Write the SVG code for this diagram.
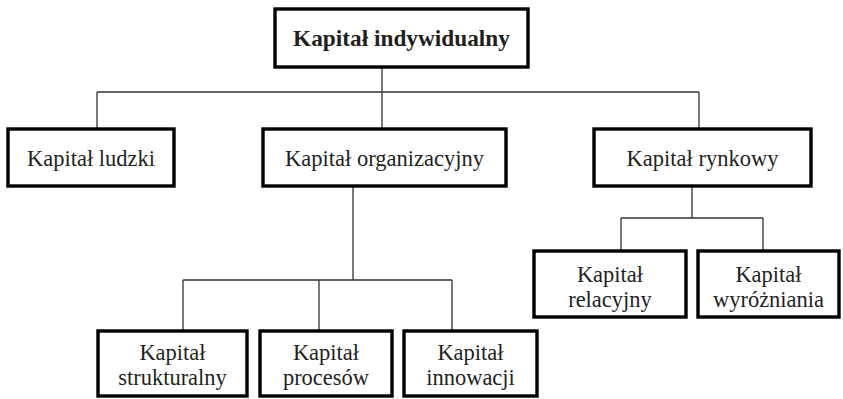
<svg xmlns="http://www.w3.org/2000/svg" width="843" height="399" viewBox="0 0 843 399">
<style>
.box{fill:#fff;stroke:#000;stroke-width:3.4}
.t{font-family:'Liberation Serif','DejaVu Serif',serif;font-size:22.5px;fill:#231f20;text-anchor:middle}
.b{font-weight:bold;font-size:23.3px}
.c{fill:none;stroke:#333;stroke-width:1.3}
</style>
<rect width="843" height="399" fill="#fff"/>
<g id="connectors">
<path class="c" d="M382 68V128M97 92H699M97 92V128M699 92V128"/>
<path class="c" d="M353 187V280M183 280H452M183 280V330M319 280V330M452 280V330"/>
<path class="c" d="M692 187V218M621 218H763M621 218V250M763 218V250"/>
</g>
<g id="n-indywidualny"><rect class="box" x="275" y="9" width="253" height="58"/><text class="t b" x="401.5" y="46">Kapitał indywidualny</text></g>
<g id="n-ludzki"><rect class="box" x="8" y="129" width="166" height="57"/><text class="t" x="91" y="166">Kapitał ludzki</text></g>
<g id="n-organizacyjny"><rect class="box" x="263" y="129" width="243" height="57"/><text class="t" x="384.5" y="166">Kapitał organizacyjny</text></g>
<g id="n-rynkowy"><rect class="box" x="594" y="129" width="217" height="57"/><text class="t" x="702.5" y="166">Kapitał rynkowy</text></g>
<g id="n-relacyjny"><rect class="box" x="534" y="251" width="152" height="66"/><text class="t" x="610" y="282">Kapitał</text><text class="t" x="610" y="307">relacyjny</text></g>
<g id="n-wyrozniania"><rect class="box" x="698" y="251" width="141" height="66"/><text class="t" x="768.5" y="282">Kapitał</text><text class="t" x="768.5" y="307">wyróżniania</text></g>
<g id="n-strukturalny"><rect class="box" x="98" y="331" width="149" height="65"/><text class="t" x="172.5" y="360">Kapitał</text><text class="t" x="172.5" y="385">strukturalny</text></g>
<g id="n-procesow"><rect class="box" x="260" y="331" width="132" height="65"/><text class="t" x="326" y="360">Kapitał</text><text class="t" x="326" y="385">procesów</text></g>
<g id="n-innowacji"><rect class="box" x="404" y="331" width="133" height="65"/><text class="t" x="470.5" y="360">Kapitał</text><text class="t" x="470.5" y="385">innowacji</text></g>
</svg>
